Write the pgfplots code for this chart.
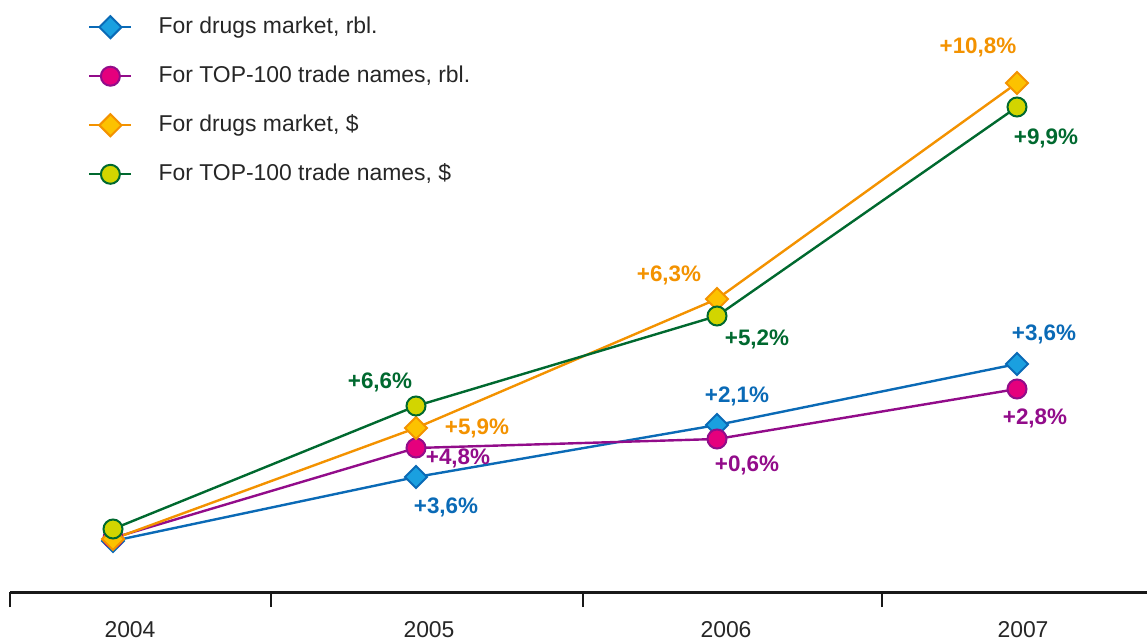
\documentclass[border=0pt]{standalone}
\usepackage{pgfplots}
\pgfplotsset{compat=1.18}
\usepackage{fontspec}
\setmainfont{Liberation Sans}
\definecolor{bline}{HTML}{0A6AB6}
\definecolor{bfill}{HTML}{1AA0E0}
\definecolor{mline}{HTML}{920C8A}
\definecolor{mfill}{HTML}{E5007D}
\definecolor{oline}{HTML}{F39200}
\definecolor{ofill}{HTML}{FCC200}
\definecolor{gline}{HTML}{00692F}
\definecolor{gfill}{HTML}{D2D500}
\newcommand\lbl{\fontsize{22.5}{26}\selectfont\bfseries}
\begin{document}
\begin{tikzpicture}
\begin{axis}[
  scale only axis, width=1137bp, height=592bp,
  xmin=10, xmax=1147, ymin=49, ymax=641,
  axis x line*=bottom, axis y line=none,
  axis line style={line width=3bp, color=black!90, -},
  clip=false,
  xtick={130,429,726,1023}, xticklabels={2004,2005,2006,2007},
  major tick length=0pt,
  minor xtick={10,271,583,882},
  minor tick length=15bp,
  tick align=outside,
  minor tick style={line width=2.8bp, color=black!90},
  xticklabel style={font=\fontsize{23}{27}\selectfont, color=black!85, anchor=base, yshift=-45bp},
  legend style={at={(0.0686,0.973)}, anchor=north west, draw=none, fill=none,
    font=\fontsize{23}{27}\selectfont, text=black!85, inner sep=0pt, row sep=27bp,
    nodes={inner sep=0pt, text height=17bp, text depth=5bp},
    /tikz/every odd column/.append style={column sep=26bp}},
  legend cell align=left,
  legend image code/.code={\draw[mark repeat=2,mark phase=2,#1] plot coordinates {(0bp,0bp)(21bp,0bp)(42bp,0bp)};},
]
\addplot[bline, line width=2.4bp, mark=square*, mark size=7.8bp, mark options={rotate=45, fill=bfill, draw=bline, line width=2bp}]
  coordinates {(113,100)(416,164)(717,216)(1017,277)};
\addlegendentry{For drugs market, rbl.}
\addplot[mline, line width=2.4bp, mark=*, mark size=9.5bp, mark options={fill=mfill, draw=mline, line width=2bp}]
  coordinates {(113,103)(416,193)(717,202)(1017,252)};
\addlegendentry{For TOP-100 trade names, rbl.}
\addplot[oline, line width=2.4bp, mark=square*, mark size=7.8bp, mark options={rotate=45, fill=ofill, draw=oline, line width=2bp}]
  coordinates {(113,102)(416,213)(717,342)(1017,558)};
\addlegendentry{For drugs market, \$}
\addplot[gline, line width=2.4bp, mark=*, mark size=9.5bp, mark options={fill=gfill, draw=gline, line width=2bp}]
  coordinates {(113,112)(416,235)(717,325)(1017,534)};
\addlegendentry{For TOP-100 trade names, \$}
\begin{scope}[every node/.style={inner sep=0pt, text height=16bp, text depth=0pt, anchor=center, font=\lbl}]
\node[text=oline] at (axis cs:978,595) {+10,8\%};
\node[text=gline] at (axis cs:1046,504) {+9,9\%};
\node[text=bline] at (axis cs:1044,308) {+3,6\%};
\node[text=mline] at (axis cs:1035,224) {+2,8\%};
\node[text=oline] at (axis cs:669,367) {+6,3\%};
\node[text=gline] at (axis cs:757,303) {+5,2\%};
\node[text=bline] at (axis cs:737,246) {+2,1\%};
\node[text=mline] at (axis cs:747,177) {+0,6\%};
\node[text=gline] at (axis cs:380,260) {+6,6\%};
\node[text=oline] at (axis cs:477,214) {+5,9\%};
\node[text=mline] at (axis cs:458,184) {+4,8\%};
\node[text=bline] at (axis cs:446,136) {+3,6\%};
\end{scope}
\coordinate (bl) at (axis cs:0,0);
\coordinate (tr) at (axis cs:1147,641);
\end{axis}
\pgfresetboundingbox
\path[use as bounding box] (bl) rectangle (tr);
\end{tikzpicture}
\end{document}
